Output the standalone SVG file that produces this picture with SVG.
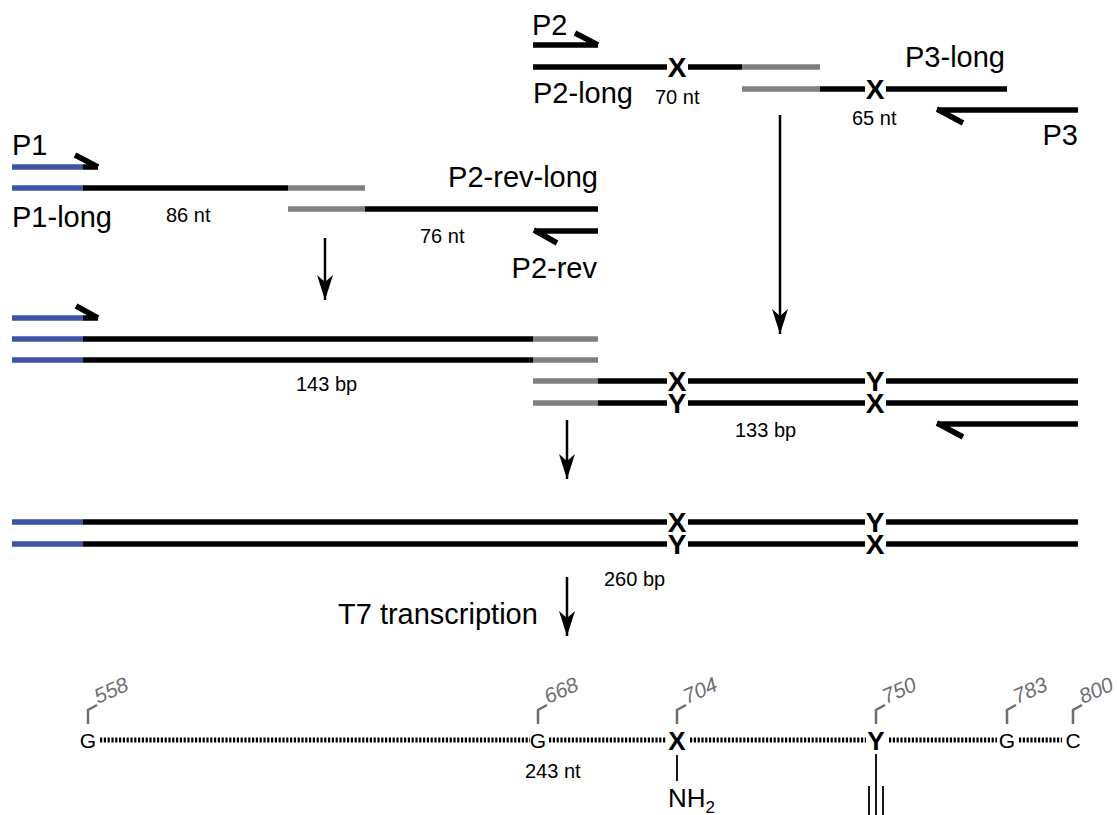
<svg xmlns="http://www.w3.org/2000/svg" width="1117" height="815" viewBox="0 0 1117 815">
<style>
text{font-family:"Liberation Sans",Arial,sans-serif;fill:#000}
.lbl{font-size:29px}
.sm{font-size:20px}
.xy{font-size:28px;font-weight:bold;text-anchor:middle}
.xyb{font-size:26px;font-weight:bold;text-anchor:middle}
.nt{font-size:21px;text-anchor:middle}
.num{font-size:21px;fill:#6d6e71;font-style:italic}
.k{stroke:#000;stroke-width:5.5;fill:none}
.g{stroke:#808080;stroke-width:5.5;fill:none}
.b{stroke:#3b54a5;stroke-width:5.5;fill:none}
.h{stroke:#000;stroke-width:5.5;fill:none;stroke-linecap:butt}
.arr{stroke:#000;stroke-width:2.5;fill:none}
.dot{stroke:#000;stroke-width:5;stroke-dasharray:2.2 1.6;fill:none}
.br{stroke:#6d6e71;stroke-width:2.5;fill:none}
.thin{stroke:#000;stroke-width:1.8;fill:none}
</style>
<defs>
<marker id="ah" markerWidth="16" markerHeight="26" refX="8" refY="25" orient="0" markerUnits="userSpaceOnUse">
<path d="M0,0 L8,7 L16,0 L8,25 Z" fill="#000"/>
</marker>
</defs>

<g id="p2-long-template">
<text class="lbl" x="532" y="35">P2</text>
<path class="h" d="M533,45 H598 M575,33 L598,45"/>
<path class="k" d="M533,67 H667 M688,67 H742"/>
<path class="g" d="M742,67 H820"/>
<text class="xy" x="677" y="77">X</text>
<text class="lbl" x="533" y="103">P2-long</text>
<text class="sm" x="655" y="104">70 nt</text>
</g>

<g id="p3-long-template">
<path class="g" d="M742,89 H820"/>
<path class="k" d="M820,89 H865 M886,89 H1007"/>
<text class="xy" x="875" y="99">X</text>
<text class="lbl" x="905" y="67">P3-long</text>
<text class="sm" x="852" y="125">65 nt</text>
<path class="h" d="M937,110 H1078 M937,109 L963,123"/>
<text class="lbl" x="1078" y="145" text-anchor="end">P3</text>
</g>

<g id="p1-long-template">
<text class="lbl" x="12" y="155">P1</text>
<path class="b" d="M12,167 H83"/>
<path class="h" d="M83,167 H98 M75,155 L98,167"/>
<path class="b" d="M12,188 H83"/>
<path class="k" d="M83,188 H288"/>
<path class="g" d="M288,188 H365"/>
<text class="lbl" x="12" y="227">P1-long</text>
<text class="sm" x="166" y="222">86 nt</text>
</g>

<g id="p2-rev-long-template">
<path class="g" d="M288,209 H365"/>
<path class="k" d="M365,209 H598"/>
<text class="lbl" x="598" y="187" text-anchor="end">P2-rev-long</text>
<text class="sm" x="420" y="243">76 nt</text>
<path class="h" d="M534,231 H598 M534,230 L557,243"/>
<text class="lbl" x="597" y="278" text-anchor="end">P2-rev</text>
</g>

<g id="pcr-143bp">
<path class="b" d="M12,318 H83"/>
<path class="h" d="M83,318 H98 M76,306 L98,318"/>
<path class="b" d="M12,339 H83 M12,360 H83"/>
<path class="k" d="M83,339 H533 M83,360 H533"/>
<path class="g" d="M533,339 H598 M533,360 H598"/>
<text class="sm" x="296" y="391">143 bp</text>
</g>

<g id="pcr-133bp">
<path class="g" d="M533,381 H598 M533,403 H598"/>
<path class="k" d="M598,381 H667 M688,381 H865 M886,381 H1078 M598,403 H667 M688,403 H865 M886,403 H1078"/>
<text class="xy" x="677" y="391">X</text>
<text class="xy" x="875" y="391">Y</text>
<text class="xy" x="677" y="413">Y</text>
<text class="xy" x="875" y="413">X</text>
<text class="sm" x="735" y="437">133 bp</text>
<path class="h" d="M937,424 H1078 M937,423 L963,437"/>
</g>

<g id="pcr-260bp">
<path class="b" d="M12,522 H83 M12,544 H83"/>
<path class="k" d="M83,522 H667 M688,522 H865 M886,522 H1078 M83,544 H667 M688,544 H865 M886,544 H1078"/>
<text class="xy" x="677" y="532">X</text>
<text class="xy" x="875" y="532">Y</text>
<text class="xy" x="677" y="554">Y</text>
<text class="xy" x="875" y="554">X</text>
<text class="sm" x="604" y="586">260 bp</text>
</g>

<g id="transcript-243nt">
<path class="dot" d="M100,740 H530 M549,740 H666 M690,740 H866 M889,740 H997 M1019,740 H1062"/>
<text class="nt" x="88" y="748">G</text>
<text class="nt" x="538" y="748">G</text>
<text class="xyb" x="677" y="750">X</text>
<text class="xyb" x="876" y="750">Y</text>
<text class="nt" x="1007" y="748">G</text>
<text class="nt" x="1073" y="748">C</text>
<path class="br" d="M88,724 V710 L97,705 M538,724 V710 L547,705 M677,724 V710 L686,705 M876,724 V710 L885,705 M1007,724 V710 L1016,705 M1073,724 V710 L1082,705"/>
<text class="num" transform="translate(98,704) rotate(-24)">558</text>
<text class="num" transform="translate(548,704) rotate(-24)">668</text>
<text class="num" transform="translate(687,704) rotate(-24)">704</text>
<text class="num" transform="translate(886,704) rotate(-24)">750</text>
<text class="num" transform="translate(1017,704) rotate(-24)">783</text>
<text class="num" transform="translate(1083,704) rotate(-24)">800</text>
<text class="sm" x="525" y="778">243 nt</text>
<path class="thin" d="M677,755 V781"/>
<text x="668" y="807" font-size="26">NH<tspan font-size="17" dy="6">2</tspan></text>
<path class="thin" d="M876,754 V815 M869,786 V815 M883,786 V815"/>
</g>

<g id="connectors">
<path class="arr" d="M325,238 V300" marker-end="url(#ah)"/>
<path class="arr" d="M780,115 V334" marker-end="url(#ah)"/>
<path class="arr" d="M567,420 V479" marker-end="url(#ah)"/>
<path class="arr" d="M567,577 V636" marker-end="url(#ah)"/>
<text class="lbl" x="338" y="624">T7 transcription</text>
</g>
</svg>
